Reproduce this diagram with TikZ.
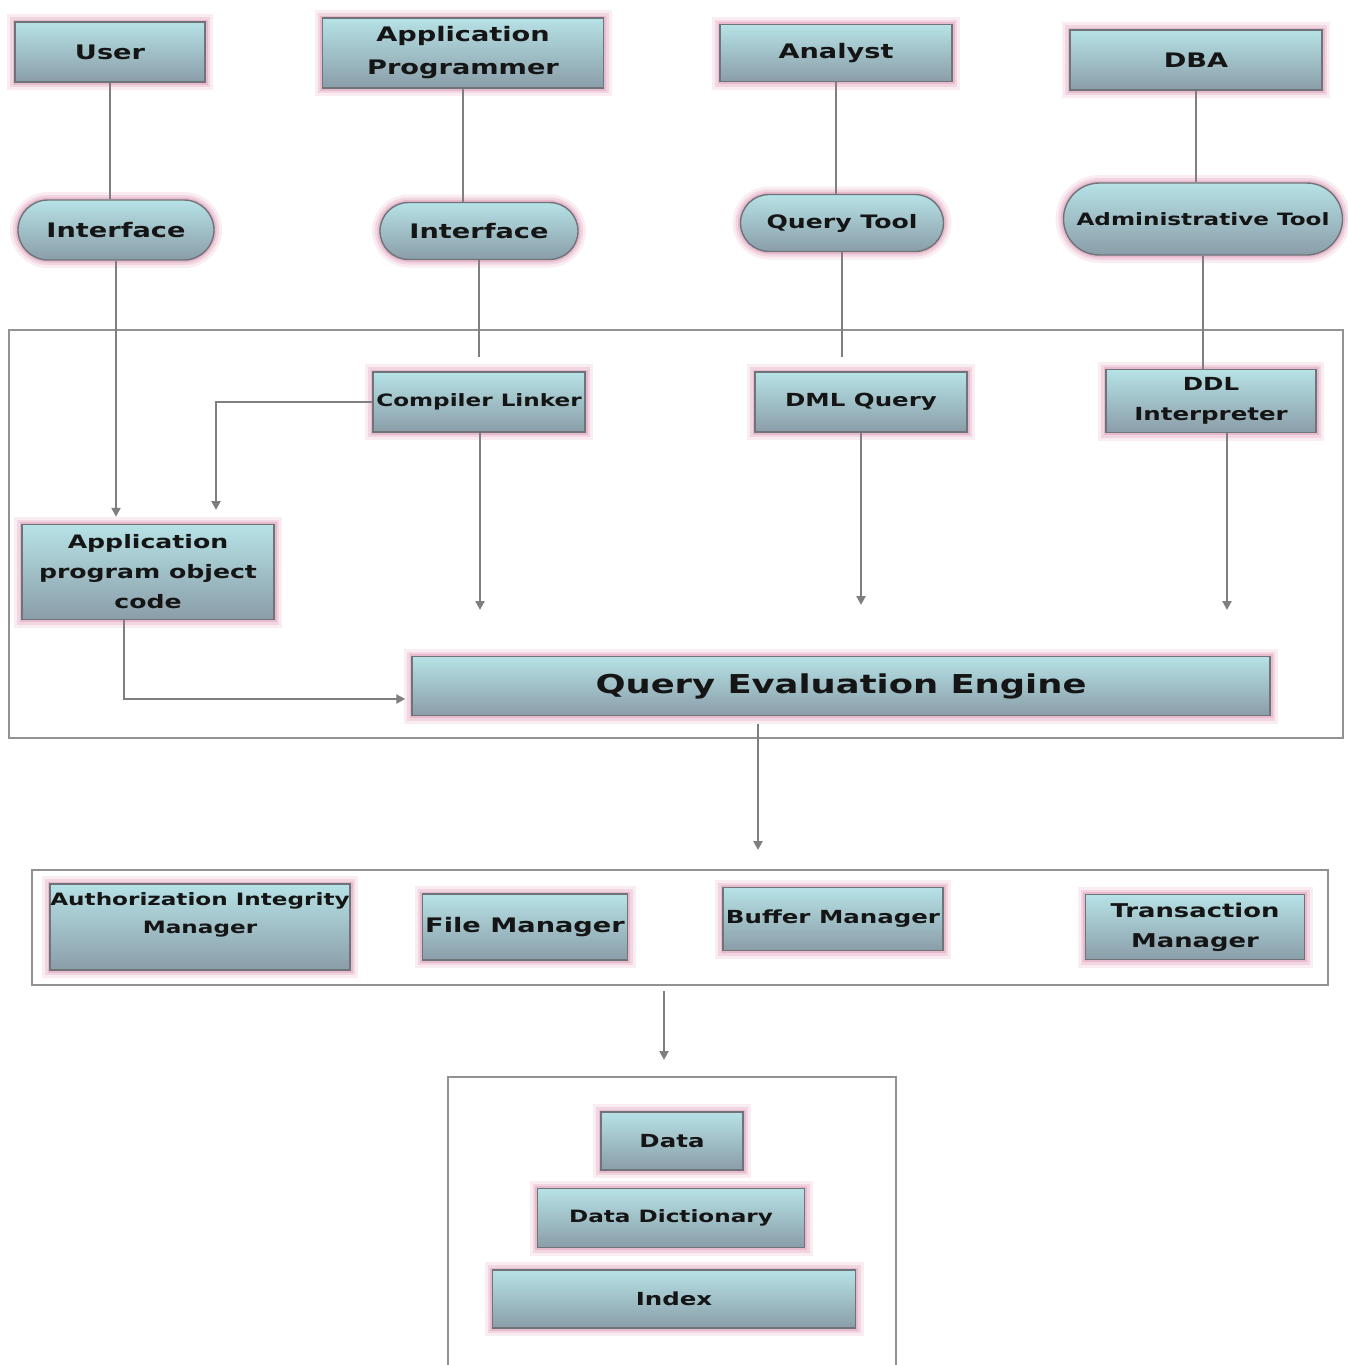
\documentclass[tikz,border=0pt]{standalone}
\usepackage{fontspec}
\setmainfont{DejaVu Sans}[FakeStretch=1.36]
\usetikzlibrary{shapes.misc,arrows.meta}
\definecolor{boxtop}{HTML}{B6E2E6}
\definecolor{boxbot}{HTML}{8A9DA8}
\definecolor{glowpink}{HTML}{E0A0BC}
\definecolor{edgegray}{HTML}{6E7478}
\definecolor{linegray}{HTML}{7F7F7F}
\definecolor{txt}{HTML}{151515}
\begin{document}
\begin{tikzpicture}[x=1pt,y=-1pt,
  fsz/.style 2 args={font=\fontsize{#1}{#2}\selectfont\bfseries},
  comp/.style={draw=edgegray, line width=1.4pt, top color=boxtop, bottom color=boxbot,
    text=txt, inner sep=0pt, align=center,
    preaction={draw=glowpink, line width=16pt, opacity=0.18},
    preaction={draw=glowpink, line width=10pt, opacity=0.3},
    preaction={draw=glowpink, line width=5pt, opacity=0.5}},
  box/.style={comp, rectangle},
  pill/.style={comp, rounded rectangle},
  frame/.style={draw=linegray!85, line width=1.8pt},
  conn/.style={draw=linegray, line width=2.8pt},
  arr/.style={conn, -{Triangle[length=9pt,width=9pt]}},
]
\fill[white] (0,0) rectangle (1348,1365);
\useasboundingbox (0,0) rectangle (1348,1365);

% frames
\node[frame, minimum width=1334, minimum height=408, inner sep=0pt] (f1) at (676,534) {};
\node[frame, minimum width=1296, minimum height=115, inner sep=0pt] (f2) at (680,927.5) {};
\draw[frame] (448,1365) -- (448,1077) -- (896,1077) -- (896,1365);

% top row
\node[box, minimum width=190, minimum height=60, fsz={20}{33}] (user) at (110,52) {User};
\node[box, minimum width=281, minimum height=70, fsz={20}{33}] (ap) at (463,53) {Application\\Programmer};
\node[box, minimum width=232, minimum height=57, fsz={20}{33}] (an) at (836,53) {Analyst};
\node[box, minimum width=252, minimum height=60, fsz={20}{33}] (dba) at (1196,60) {DBA};

% tools
\node[pill, minimum width=196, minimum height=60, fsz={20}{33}] (if1) at (116,230) {Interface};
\node[pill, minimum width=198, minimum height=57, fsz={20}{33}] (if2) at (479,231) {Interface};
\node[pill, minimum width=203, minimum height=57, fsz={18.5}{30}] (qt) at (842,223) {Query Tool};
\node[pill, minimum width=279, minimum height=72, fsz={17}{28}] (adm) at (1203,219) {Administrative Tool};

% inside frame 1
\node[box, minimum width=212, minimum height=60, fsz={17}{28}] (cl) at (479,402) {Compiler Linker};
\node[box, minimum width=212, minimum height=60, fsz={18}{30}] (dml) at (861,402) {DML Query};
\node[box, minimum width=210, minimum height=63, fsz={18}{30}] (ddl) at (1211,401) {DDL\\Interpreter};
\node[box, minimum width=252, minimum height=95, fsz={18.5}{30}] (apoc) at (148,572) {Application\\program object\\code};
\node[box, minimum width=858, minimum height=59, fsz={26}{34}] (qee) at (841,686) {Query Evaluation Engine};

% frame 2
\node[box, minimum width=300, minimum height=86, fsz={17}{28}] (aim) at (200,927) {Authorization Integrity\\Manager\\\mbox{}};
\node[box, minimum width=205, minimum height=66, fsz={20}{33}] (fm) at (525,927) {File Manager};
\node[box, minimum width=220, minimum height=63, fsz={18}{30}] (bm) at (833,919) {Buffer Manager};
\node[box, minimum width=219, minimum height=65, fsz={19}{30}] (tm) at (1195,927) {Transaction\\Manager};

% frame 3
\node[box, minimum width=142, minimum height=58, fsz={18}{30}] (data) at (672,1141) {Data};
\node[box, minimum width=267, minimum height=59, fsz={17}{28}] (dd) at (671,1218) {Data Dictionary};
\node[box, minimum width=363, minimum height=58, fsz={18}{30}] (idx) at (674,1299) {Index};

% free ends
\coordinate (clend) at (216,510);
\coordinate (clq) at (480,610);
\coordinate (dmlq) at (861,605);
\coordinate (ddlq) at (1227,610);
\coordinate (qeeq) at (758,850);
\coordinate (f3in) at (664,1060);

% connectors
\draw[conn] (user.south) -- (user.south |- if1.north);
\draw[conn] (ap.south) -- (ap.south |- if2.north);
\draw[conn] (an.south) -- (an.south |- qt.north);
\draw[conn] (dba.south) -- (dba.south |- adm.north);
\draw[arr, shorten >=7pt] (if1.south) -- (if1.south |- apoc.north);
\draw[conn, shorten >=14pt] (if2.south) -- (if2.south |- cl.north);
\draw[conn, shorten >=14pt] (qt.south) -- (qt.south |- dml.north);
\draw[conn] (adm.south) -- (adm.south |- ddl.north);
\draw[arr] (cl.west) -| (clend);
\draw[arr] ([xshift=1pt]cl.south) -- (clq);
\draw[arr] (dml.south) -- (dmlq);
\draw[arr] ([xshift=16pt]ddl.south) -- (ddlq);
\draw[arr, shorten >=6pt] ([xshift=-24pt]apoc.south) |- ([yshift=-13pt]qee.west);
\draw[arr] ([xshift=-83pt, yshift=-8pt]qee.south) -- (qeeq);
\draw[arr] ([xshift=-16pt, yshift=-5pt]f2.south) -- (f3in);
\end{tikzpicture}
\end{document}
